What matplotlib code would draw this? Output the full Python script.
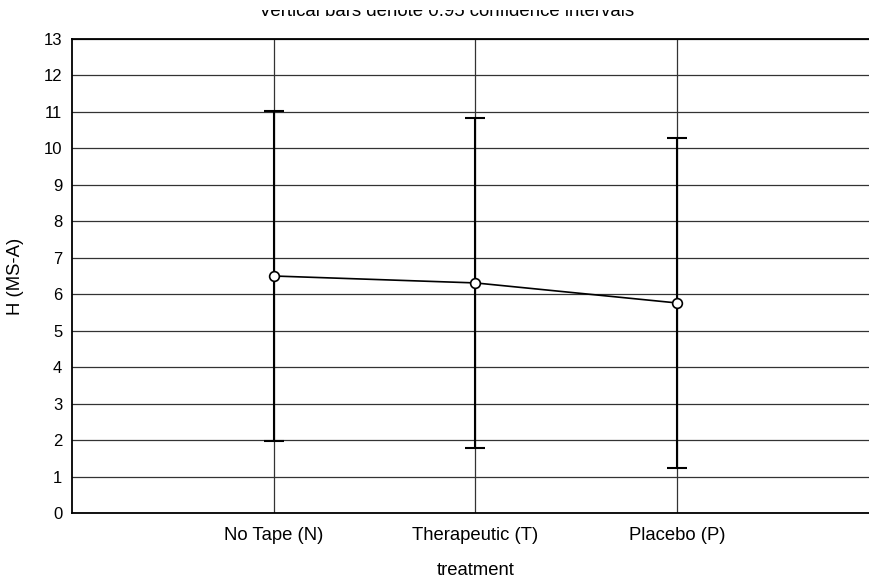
import numpy as np
import matplotlib.pyplot as plt
from matplotlib.patches import Rectangle

plt.rcParams.update({
    "font.family": ["Liberation Sans", "DejaVu Sans"],
    "font.size": 13.3,
})

# group means and 0.95 confidence interval half-widths
treatments = ['No Tape (N)', 'Therapeutic (T)', 'Placebo (P)']
means = [6.50, 6.31, 5.76]
ci_half = [4.53, 4.53, 4.53]

fig = plt.figure(figsize=(8.7, 5.78), dpi=100)
# right edge of the plot runs past the figure (cropped like the original)
ax = fig.add_axes([72/870, 1 - 513/578, (879 - 72)/870, (513 - 39)/578])

x = np.arange(len(treatments))
ax.errorbar(x, means, yerr=ci_half, fmt='none', ecolor='black',
            elinewidth=1.5, capsize=7.5, capthick=1.5, zorder=3)
ax.plot(x, means, color='black', linewidth=1.2, marker='o', markersize=7,
        markerfacecolor='white', markeredgecolor='black', markeredgewidth=1.2,
        zorder=4)

ax.set_xlim(-1, 3)
ax.set_ylim(0, 13)
ax.set_yticks(np.arange(0, 14, 1))
ax.set_xticks(x)
ax.set_xticklabels(treatments)
ax.tick_params(length=0)
ax.tick_params(axis='x', pad=10)
ax.tick_params(axis='y', pad=7, labelsize=12)
ax.grid(True, color='#333333', linewidth=0.9)
ax.set_axisbelow(True)
for s in ax.spines.values():
    s.set_linewidth(1.3)

ax.set_xlabel('treatment', labelpad=13)
ax.set_ylabel('H (MS-A)', labelpad=14)

fig.text(447/870, 1 - 16/578, 'Vertical bars denote 0.95 confidence intervals',
         ha='center', va='baseline', fontsize=13.4)
# the original title is cut off at the top
fig.patches.append(Rectangle((0, 1 - 10/578), 1, 10/578, transform=fig.transFigure,
                             facecolor='white', edgecolor='none', zorder=10))

fig.savefig('out.png', dpi=100)
